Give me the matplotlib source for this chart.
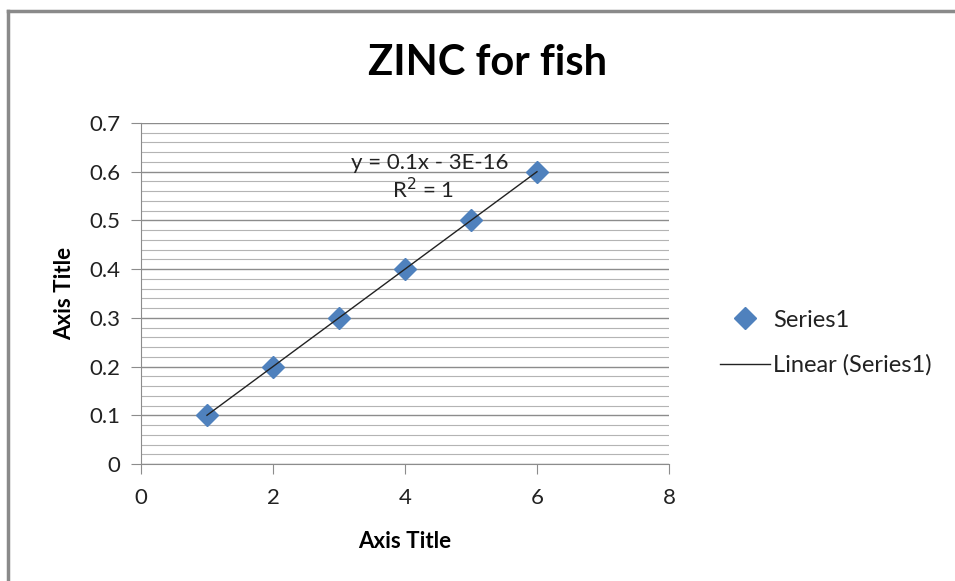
import numpy as np
import matplotlib.pyplot as plt
from matplotlib.lines import Line2D
from matplotlib.ticker import MultipleLocator

plt.rcParams['font.family'] = ['Lato', 'DejaVu Sans']

# Zinc standard readings
conc = [1, 2, 3, 4, 5, 6]
absorb = [0.1, 0.2, 0.3, 0.4, 0.5, 0.6]
slope = 0.1
intercept = -3e-16

x_ticks = [0, 2, 4, 6, 8]
y_ticks = [0, 0.1, 0.2, 0.3, 0.4, 0.5, 0.6, 0.7]
y_labels = ['0', '0.1', '0.2', '0.3', '0.4', '0.5', '0.6', '0.7']

fig = plt.figure(figsize=(9.55, 5.81), dpi=100)
ax = fig.add_axes([0.1476, 0.2014, 0.5529, 0.5869])

# Grey chart frame on the left and top edges
fig.add_artist(Line2D([0.0089, 0.0089], [0.0, 0.981], transform=fig.transFigure,
                      color='#8a8a8a', lw=2.5))
fig.add_artist(Line2D([0.0089, 1.0], [0.981, 0.981], transform=fig.transFigure,
                      color='#8a8a8a', lw=2.5))

ax.set_xlim(0, 8)
ax.set_ylim(0, 0.7)
ax.set_xticks(x_ticks)
ax.set_xticklabels([str(t) for t in x_ticks])
ax.set_yticks(y_ticks)
ax.set_yticklabels(y_labels)
ax.yaxis.set_minor_locator(MultipleLocator(0.02))

ax.grid(True, which='major', axis='y', color='#8c8c8c', lw=1.0)
ax.grid(True, which='minor', axis='y', color='#b4b4b4', lw=0.8)
ax.set_axisbelow(True)

for side in ['top', 'right']:
    ax.spines[side].set_visible(False)
ax.spines['left'].set_color('#8c8c8c')
ax.spines['bottom'].set_color('#8c8c8c')
ax.tick_params(axis='both', which='major', length=7, color='#8c8c8c',
               labelsize=16, labelcolor='#222222')
ax.tick_params(axis='y', which='minor', length=0)
ax.tick_params(axis='y', pad=8)
ax.tick_params(axis='x', pad=10)

# Data points and linear trendline
ax.plot(conc, absorb, 'D', color='#4f81bd', ms=11.5, label='Series1',
        clip_on=False, zorder=3)
xfit = np.array([conc[0], conc[-1]])
ax.plot(xfit, slope * xfit + intercept, color='#222222', lw=1.0,
        label='Linear (Series1)', zorder=4)

ax.text(4.38, 0.618, 'y = 0.1x - 3E-16', ha='center', va='center',
        fontsize=16, color='#222222')
ax.text(4.28, 0.5625, 'R$^2$ = 1', ha='center', va='center',
        fontsize=16, color='#222222')

fig.text(0.511, 0.892, 'ZINC for fish', ha='center', va='center',
         fontsize=30, fontweight='bold')
ax.set_xlabel('Axis Title', fontsize=16, fontweight='bold', labelpad=17)
ax.set_ylabel('Axis Title', fontsize=16, fontweight='bold', labelpad=10)

fig.legend(loc='center left', bbox_to_anchor=(0.732, 0.41),
           frameon=False, fontsize=17, handlelength=2.1, handletextpad=0.15,
           labelspacing=1.0, labelcolor='#222222')

fig.savefig('out.png', dpi=100)
